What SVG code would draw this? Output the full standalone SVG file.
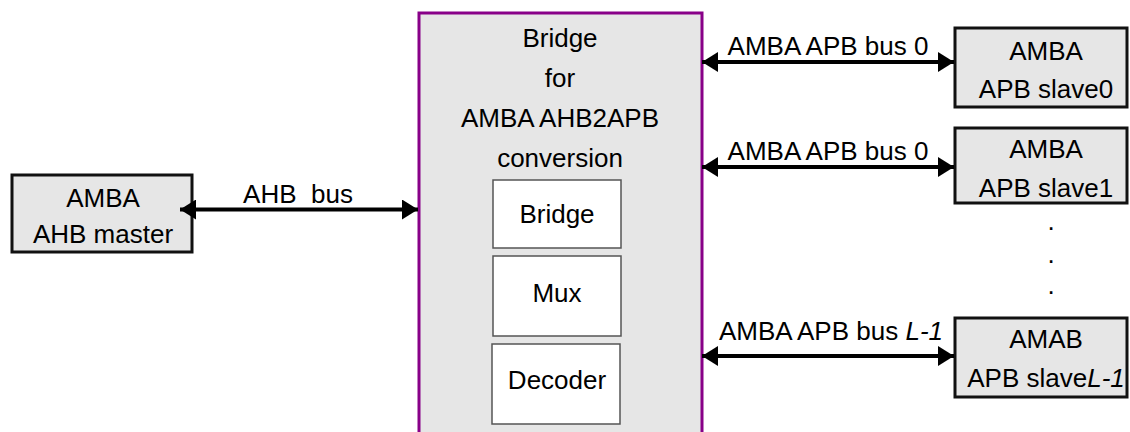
<svg xmlns="http://www.w3.org/2000/svg" width="1130" height="432" viewBox="0 0 1130 432">
  <style>
    text { font-family: "Liberation Sans", Arial, sans-serif; font-size: 26px; fill: #000; text-anchor: middle; white-space: pre; }
    .ext { fill: #e6e6e6; stroke: #111; stroke-width: 3; }
    .bridge { fill: #e6e6e6; stroke: #880088; stroke-width: 3; }
    .sub { fill: #fff; stroke: #555; stroke-width: 1.5; }
    .bus { stroke: #000; stroke-width: 4; fill: none; marker-start: url(#head); marker-end: url(#head); }
    .it { font-style: italic; }
  </style>
  <defs>
    <marker id="head" viewBox="0 0 16 20" refX="16" refY="10" markerWidth="16" markerHeight="20" markerUnits="userSpaceOnUse" orient="auto-start-reverse">
      <path d="M0,0 L16,10 L0,20 Z" fill="#000"/>
    </marker>
  </defs>

  <!-- AHB master -->
  <g id="ahb-master">
    <rect class="ext" x="12" y="175" width="180" height="77"/>
    <text x="103" y="207">AMBA</text>
    <text x="103" y="243">AHB master</text>
  </g>

  <!-- AHB2APB bridge with its sub-blocks -->
  <g id="bridge">
    <rect class="bridge" x="419" y="13" width="283" height="440"/>
    <text x="560" y="47">Bridge</text>
    <text x="560" y="87">for</text>
    <text x="560" y="127">AMBA AHB2APB</text>
    <text x="560" y="167">conversion</text>
  </g>
  <g id="bridge-core">
    <rect class="sub" x="493" y="180" width="128" height="68"/>
    <text x="557" y="223">Bridge</text>
  </g>
  <g id="mux">
    <rect class="sub" x="493" y="256" width="128" height="80"/>
    <text x="557" y="302">Mux</text>
  </g>
  <g id="decoder">
    <rect class="sub" x="492" y="344" width="128" height="80"/>
    <text x="557" y="389">Decoder</text>
  </g>

  <!-- APB slaves -->
  <g id="apb-slave0">
    <rect class="ext" x="955" y="28" width="172" height="79"/>
    <text x="1046" y="60">AMBA</text>
    <text x="1046" y="98">APB slave0</text>
  </g>
  <g id="apb-slave1">
    <rect class="ext" x="955" y="128" width="172" height="75"/>
    <text x="1046" y="158">AMBA</text>
    <text x="1046" y="197">APB slave1</text>
  </g>
  <g id="ellipsis">
    <text x="1051" y="230">.</text>
    <text x="1051" y="263">.</text>
    <text x="1051" y="294">.</text>
  </g>
  <g id="apb-slave-last">
    <rect class="ext" x="955" y="318" width="172" height="79"/>
    <text x="1046" y="348">AMAB</text>
    <text x="1046" y="387">APB slave<tspan class="it">L-1</tspan></text>
  </g>

  <!-- Buses -->
  <g id="connectors">
    <line class="bus" x1="180" y1="209.5" x2="418" y2="209.5"/>
    <text x="298" y="203">AHB  bus</text>
    <line class="bus" x1="702" y1="62" x2="954" y2="62"/>
    <text x="828" y="55">AMBA APB bus 0</text>
    <line class="bus" x1="702" y1="167" x2="954" y2="167"/>
    <text x="828" y="160">AMBA APB bus 0</text>
    <line class="bus" x1="702" y1="356" x2="954" y2="356"/>
    <text x="831" y="340">AMBA APB bus <tspan class="it">L-1</tspan></text>
  </g>
</svg>
